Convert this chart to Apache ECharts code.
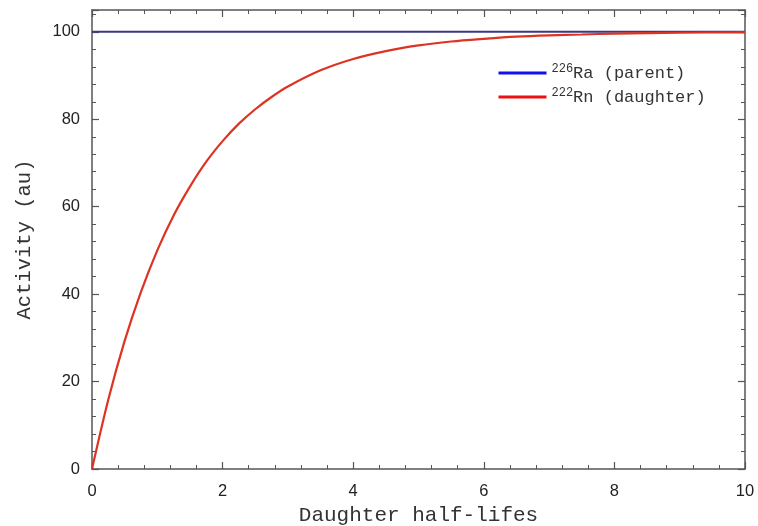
<!DOCTYPE html>
<html><head><meta charset="utf-8">
<script src="https://cdn.jsdelivr.net/npm/echarts@6/dist/echarts.min.js"></script>
<style>html,body{margin:0;padding:0;background:#fff}#c{width:758px;height:526px}</style>
</head><body><div id="c"></div>
<script>
// Daughter half-lifes (x) and activity values
const halfLifes = [0, 0.25, 0.5, 0.75, 1, 1.25, 1.5, 1.75, 2, 2.25, 2.5, 2.75, 3, 3.5, 4, 4.5, 5, 5.5, 6, 6.5, 7, 7.5, 8, 9, 10];
const rnActivity = [0, 15.9, 29.3, 40.5, 50.0, 58.0, 64.6, 70.3, 75.0, 79.0, 82.3, 85.1, 87.5, 91.2, 93.8, 95.6, 96.9, 97.8, 98.4, 98.9, 99.2, 99.4, 99.6, 99.8, 99.9];
const raX = [0, 10];
const raActivity = [100, 100];
const seriesNames = ['226Ra (parent)', '222Rn (daughter)'];

const axisColor = '#555';
const chart = echarts.init(document.getElementById('c'));
const baseX = {
  type: 'value', min: 0, max: 10, interval: 2,
  axisLine: {show: true, onZero: false, lineStyle: {color: axisColor, width: 1.5}},
  axisTick: {show: true, inside: true, length: 7, lineStyle: {color: axisColor, width: 1.2}},
  minorTick: {show: true, splitNumber: 5, length: 4, lineStyle: {color: axisColor, width: 1}},
  splitLine: {show: false}
};
const baseY = {
  type: 'value', min: 0, max: 105, interval: 20,
  axisLine: {show: true, onZero: false, lineStyle: {color: axisColor, width: 1.5}},
  axisTick: {show: true, inside: true, length: 7, lineStyle: {color: axisColor, width: 1.2}},
  minorTick: {show: true, splitNumber: 5, length: 4, lineStyle: {color: axisColor, width: 1}},
  splitLine: {show: false}
};
const mono = '"Liberation Mono", "DejaVu Sans Mono", monospace';
const sans = '"Liberation Sans", Arial, sans-serif';
const legendFmt = function (name) {
  const m = name.match(/^(\d+)(.*)$/);
  return '{sup|' + m[1] + '}{txt|' + m[2] + '}';
};
chart.setOption({
  animation: false,
  backgroundColor: '#fff',
  grid: {left: 92, right: 13, top: 10, bottom: 57, outerBoundsMode: 'none', containLabel: false},
  xAxis: [
    Object.assign({}, baseX, {
      position: 'bottom',
      name: 'Daughter half-lifes', nameLocation: 'middle', nameGap: 34,
      nameTextStyle: {fontFamily: mono, fontSize: 21, color: '#333'},
      axisLabel: {show: true, margin: 14, fontFamily: sans, fontSize: 16.5, color: '#222'}
    }),
    Object.assign({}, baseX, {position: 'top', axisLabel: {show: false}})
  ],
  yAxis: [
    Object.assign({}, baseY, {
      position: 'left',
      name: 'Activity (au)', nameLocation: 'middle', nameGap: 57,
      nameTextStyle: {fontFamily: mono, fontSize: 20.5, color: '#333'},
      axisLabel: {show: true, margin: 12, showMaxLabel: false, fontFamily: sans, fontSize: 16.5, color: '#222',
        formatter: function (v) { return v % 20 === 0 ? String(v) : ''; }}
    }),
    Object.assign({}, baseY, {position: 'right', axisLabel: {show: false}})
  ],
  legend: {
    orient: 'vertical', left: 497, top: 63, padding: 0,
    itemWidth: 48, itemHeight: 14, itemGap: 4,
    formatter: legendFmt,
    textStyle: {
      rich: {
        sup: {fontFamily: mono, fontSize: 12, color: '#333', verticalAlign: 'top', lineHeight: 20, padding: [0, 0, 8, 0]},
        txt: {fontFamily: mono, fontSize: 17, color: '#333', lineHeight: 20}
      }
    },
    data: [
      {name: seriesNames[0], lineStyle: {color: '#1010ee', width: 3}, itemStyle: {color: '#1010ee', opacity: 0}},
      {name: seriesNames[1], lineStyle: {color: '#ee1010', width: 3}, itemStyle: {color: '#ee1010', opacity: 0}}
    ]
  },
  series: [
    {
      name: seriesNames[0], type: 'line', symbol: 'none',
      data: raX.map((x, i) => [x, raActivity[i]]),
      lineStyle: {color: '#3a3a80', width: 2}, itemStyle: {color: '#3a3a80'}, z: 2
    },
    {
      name: seriesNames[1], type: 'line', symbol: 'none', smooth: 0.3,
      data: halfLifes.map((x, i) => [x, rnActivity[i]]),
      lineStyle: {color: '#dd3322', width: 2.2}, itemStyle: {color: '#dd3322'}, z: 3
    }
  ]
});
</script></body></html>
